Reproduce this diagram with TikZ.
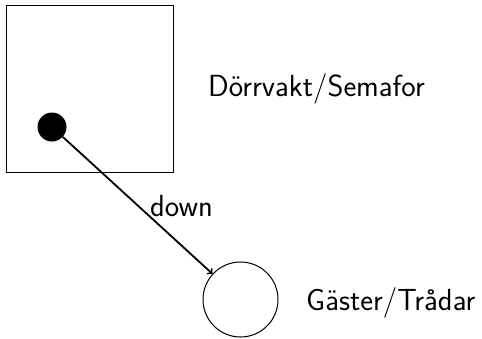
\documentclass[tikz,border=0pt]{standalone}
\renewcommand{\familydefault}{\sfdefault}
\begin{document}
\begin{tikzpicture}[x=1pt,y=-1pt,
  lbl/.style={font=\fontsize{30.5}{36}\selectfont\sffamily,inner sep=0pt,anchor=base west}]
\useasboundingbox (0,0) rectangle (482,338);
\node[draw,line width=1pt,minimum size=167pt,inner sep=0pt] (box) at (89.5,88.5) {};
\node[circle,fill=black,minimum size=29pt,inner sep=0pt] (dot) at (52,127) {};
\node[circle,draw,line width=1pt,minimum size=75pt,inner sep=0pt] (g) at (240.5,299.5) {};
\node[lbl] (t1) at (208,96) {Dörrvakt/Semafor};
\node[lbl] (t2) at (306,310) {Gäster/Trådar};
\node[lbl] (t3) at (150,216) {down};
\draw[line width=1.8pt,-to] (dot) -- (g);
\end{tikzpicture}
\end{document}
